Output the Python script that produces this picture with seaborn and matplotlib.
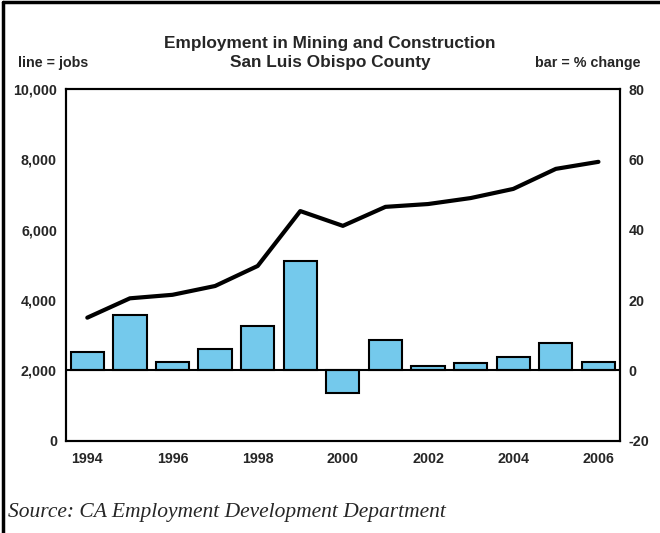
import numpy as np
import pandas as pd
import matplotlib
matplotlib.use("Agg")
import matplotlib.pyplot as plt
import seaborn as sns

sns.set_style("white")
plt.rcParams["font.family"] = ["Liberation Sans", "DejaVu Sans"]

years = [1994, 1995, 1996, 1997, 1998, 1999, 2000, 2001, 2002, 2003, 2004, 2005, 2006]
jobs = [3500, 4050, 4150, 4400, 4970, 6530, 6110, 6650, 6730, 6900, 7160, 7730, 7930]
pct_change = [5.1, 15.8, 2.4, 6.1, 12.5, 31.1, -6.4, 8.7, 1.4, 2.1, 3.9, 7.8, 2.4]
year_labels = ["1994", "1996", "1998", "2000", "2002", "2004", "2006"]
left_ticks = [0, 2000, 4000, 6000, 8000, 10000]
right_ticks = [-20, 0, 20, 40, 60, 80]

BAR_COLOR = "#74C9EC"

df = pd.DataFrame({"year": [str(y) for y in years], "jobs": jobs, "pct": pct_change})
df["pos"] = np.arange(len(df))

fig = plt.figure(figsize=(6.6, 5.33), dpi=100)
ax = fig.add_axes([0.1, 0.173, 0.839, 0.66])

# bars = % change (right scale)
sns.barplot(data=df, x="year", y="pct", color=BAR_COLOR, width=0.78,
            edgecolor="black", linewidth=1.5, saturation=1, ax=ax)
ax.axhline(0, color="black", lw=1.5, zorder=1)
ax.set_ylim(-20, 80)
ax.set_xlim(-0.5, len(years) - 0.5)

# line = jobs (left scale)
ax2 = ax.twinx()
sns.lineplot(data=df, x="pos", y="jobs", color="black", lw=3, ax=ax2)
ax2.set_ylim(0, 10000)

# swap sides: jobs on the left, % change on the right
ax.yaxis.tick_right()
ax.yaxis.set_label_position("right")
ax2.yaxis.tick_left()
ax2.yaxis.set_label_position("left")
ax.set_yticks(right_ticks)
ax.set_yticklabels([str(t) for t in right_ticks])
ax2.set_yticks(left_ticks)
ax2.set_yticklabels([f"{t:,}" for t in left_ticks])

ax.set_xticks(np.arange(0, len(years), 2))
ax.set_xticklabels(year_labels)

for a in (ax, ax2):
    a.set_xlabel("")
    a.set_ylabel("")
    a.tick_params(length=0, labelsize=10.3, pad=6.5)
    for lab in a.get_xticklabels() + a.get_yticklabels():
        lab.set_fontweight("bold")
    for s in a.spines.values():
        s.set_color("black")
        s.set_linewidth(1.5)
ax.tick_params(axis="x", pad=8)

fig.text(0.5, 0.919, "Employment in Mining and Construction", ha="center",
         va="center", fontsize=12.4, fontweight="bold")
fig.text(0.5, 0.883, "San Luis Obispo County", ha="center",
         va="center", fontsize=12.4, fontweight="bold")
fig.text(0.027, 0.881, "line = jobs", ha="left", va="center",
         fontsize=10.3, fontweight="bold")
fig.text(0.97, 0.881, "bar = % change", ha="right", va="center",
         fontsize=10.3, fontweight="bold")
fig.text(0.012, 0.038, "Source: CA Employment Development Department", ha="left",
         va="center", fontsize=15.5, style="italic",
         family=["Liberation Serif", "DejaVu Serif"])

# frame lines at top and left
fig.add_artist(plt.Line2D([0.004, 0.004], [0, 0.996], color="black", lw=2.5))
fig.add_artist(plt.Line2D([0.004, 1], [0.996, 0.996], color="black", lw=2.5))

fig.savefig("out.png", dpi=100)
